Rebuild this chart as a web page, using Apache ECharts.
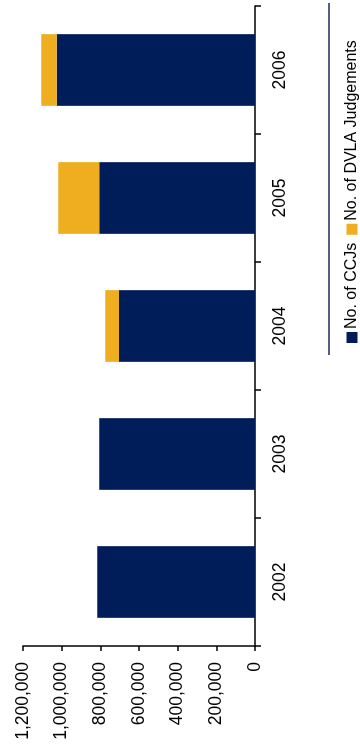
<!DOCTYPE html>
<html>
<head>
<meta charset="utf-8">
<script src="https://cdn.jsdelivr.net/npm/echarts@6/dist/echarts.min.js"></script>
<style>
  html, body { margin: 0; padding: 0; background: #ffffff; overflow: hidden; }
  body { width: 360px; height: 751px; position: relative; }
  /* The chart is laid out landscape and turned a quarter turn anticlockwise */
  #chart {
    position: absolute; left: 0; top: 0;
    width: 751px; height: 360px;
    transform-origin: 0 0;
    transform: translate(0, 751px) rotate(-90deg);
  }
</style>
</head>
<body>
<div id="chart"></div>
<script>
// Years on the category axis
const years = ['2002', '2003', '2004', '2005', '2006'];
// County Court Judgements per year
const ccjs = [816000, 806000, 703000, 806000, 1025000];
// DVLA judgements per year (none recorded before 2004)
const dvla = [null, null, 72000, 212000, 81000];
// Value axis ticks
const valueTicks = [0, 200000, 400000, 600000, 800000, 1000000, 1200000];

const NAVY = '#001d5a';
const GOLD = '#efae20';
const FONT = 'Liberation Sans, Arial, sans-serif';

function withCommas(v) {
  return String(v).replace(/\B(?=(\d{3})+(?!\d))/g, ',');
}

const chart = echarts.init(document.getElementById('chart'), null, { renderer: 'canvas' });

chart.setOption({
  animation: false,
  backgroundColor: '#ffffff',
  textStyle: { fontFamily: FONT },
  grid: { left: 105, right: 6, top: 23, bottom: 105, containLabel: false },
  legend: {
    left: 403,
    top: 339,
    orient: 'horizontal',
    itemWidth: 11,
    itemHeight: 11,
    itemGap: 8,
    icon: 'rect',
    textStyle: { fontFamily: FONT, fontSize: 16, color: '#000000', padding: [0, 0, 0, -2] },
    data: ['No. of CCJs', 'No. of DVLA Judgements']
  },
  xAxis: {
    type: 'category',
    data: years,
    boundaryGap: true,
    axisLine: { show: true, lineStyle: { color: '#000000', width: 1.5 } },
    axisTick: { show: true, length: 6, inside: false, lineStyle: { color: '#000000', width: 1.5 } },
    axisLabel: { margin: 16, fontFamily: FONT, fontSize: 17.5, color: '#000000' }
  },
  yAxis: {
    type: 'value',
    min: valueTicks[0],
    max: valueTicks[valueTicks.length - 1],
    interval: valueTicks[1] - valueTicks[0],
    axisLine: { show: true, lineStyle: { color: '#000000', width: 1.5 } },
    axisTick: { show: true, length: 5, inside: false, lineStyle: { color: '#000000', width: 1.5 } },
    splitLine: { show: false },
    axisLabel: { margin: 16, fontFamily: FONT, fontSize: 17.5, color: '#000000', formatter: withCommas }
  },
  graphic: [{
    type: 'line',
    shape: { x1: 396, y1: 329, x2: 748, y2: 329 },
    style: { stroke: '#1c2a55', lineWidth: 1.5 },
    silent: true
  }],
  series: [
    {
      name: 'No. of CCJs',
      type: 'bar',
      stack: 'total',
      data: ccjs,
      barWidth: '56%',
      itemStyle: { color: NAVY }
    },
    {
      name: 'No. of DVLA Judgements',
      type: 'bar',
      stack: 'total',
      data: dvla,
      barWidth: '56%',
      itemStyle: { color: GOLD }
    }
  ]
});
</script>
</body>
</html>
